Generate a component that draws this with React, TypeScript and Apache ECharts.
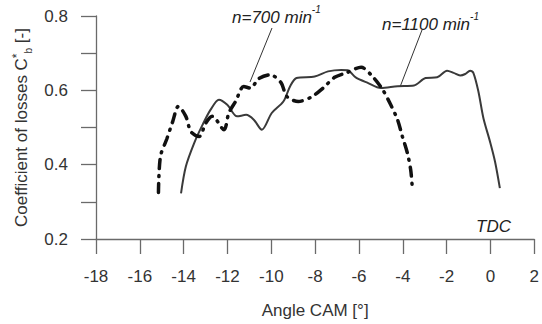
import React, { useEffect, useRef } from "react";
import * as echarts from "echarts";

const xTickLabels = [-18, -16, -14, -12, -10, -8, -6, -4, -2, 0, 2];
const yTickLabels = [0.2, 0.4, 0.6, 0.8];

const rpm1100X = [-14.12, -13.9, -13.52, -13.14, -12.77, -12.39, -12.01, -11.56, -11.15, -10.8, -10.43, -9.98, -9.45, -9.14, -8.85, -8.02, -7.41, -6.81, -6.51, -6.15, -5.6, -5.0, -4.24, -3.49, -2.96, -2.43, -1.98, -1.68, -1.38, -1.15, -0.93, -0.78, -0.55, -0.32, -0.02, 0.21, 0.43];
const rpm1100Y = [0.323, 0.395, 0.458, 0.507, 0.548, 0.575, 0.561, 0.53, 0.534, 0.521, 0.494, 0.539, 0.57, 0.611, 0.633, 0.637, 0.651, 0.655, 0.654, 0.635, 0.62, 0.606, 0.611, 0.613, 0.633, 0.635, 0.653, 0.647, 0.64, 0.644, 0.653, 0.647, 0.597, 0.525, 0.462, 0.408, 0.337];

const rpm700X = [-15.15, -15.06, -14.77, -14.5, -14.24, -13.9, -13.67, -13.29, -12.99, -12.69, -12.16, -11.94, -11.63, -11.26, -10.95, -10.58, -10.05, -9.55, -9.3, -8.77, -8.17, -7.64, -7.11, -6.58, -5.9, -5.38, -4.92, -4.55, -4.24, -4.02, -3.79, -3.64, -3.57];
const rpm700Y = [0.325, 0.422, 0.469, 0.516, 0.557, 0.53, 0.489, 0.476, 0.512, 0.53, 0.494, 0.539, 0.57, 0.61, 0.606, 0.631, 0.642, 0.62, 0.584, 0.57, 0.582, 0.606, 0.635, 0.647, 0.662, 0.637, 0.602, 0.561, 0.521, 0.476, 0.431, 0.386, 0.341];

const FONT = "Liberation Sans, Arial, sans-serif";

export default function App() {
  const ref = useRef<HTMLDivElement>(null);
  useEffect(() => {
    if (!ref.current) return;
    const chart = echarts.init(ref.current, undefined, { renderer: "svg" });
    const axisColor = "#6a6a6a";
    const textColor = "#333";
    chart.setOption({
      animation: false,
      grid: { left: 96, right: 4, top: 16, bottom: 85 },
      xAxis: {
        type: "value",
        min: xTickLabels[0],
        max: xTickLabels[xTickLabels.length - 1],
        interval: 2,
        name: "Angle CAM [°]",
        nameLocation: "middle",
        nameGap: 63,
        nameTextStyle: { fontFamily: FONT, fontSize: 17, color: textColor },
        axisLine: { onZero: false, lineStyle: { color: axisColor, width: 1.3 } },
        axisTick: { length: 15, lineStyle: { color: axisColor, width: 1.3 } },
        axisLabel: { margin: 29, fontFamily: FONT, fontSize: 17, color: textColor, showMaxLabel: true },
        splitLine: { show: false },
      },
      yAxis: {
        type: "value",
        min: yTickLabels[0],
        max: yTickLabels[yTickLabels.length - 1],
        interval: 0.1,
        name: "{a|Coefficient of losses C}{sup|*}{sub|b}{a| [-]}",
        nameLocation: "middle",
        nameGap: 60,
        nameRotate: 90,
        nameTextStyle: {
          fontFamily: FONT,
          fontSize: 17,
          color: textColor,
          rich: {
            a: { fontFamily: FONT, fontSize: 17, color: textColor, lineHeight: 24, verticalAlign: "bottom", padding: [0, 0, 3, 0] },
            sup: { fontFamily: FONT, fontSize: 12, color: textColor, lineHeight: 24, verticalAlign: "top", padding: [2, 0, 0, 0] },
            sub: { fontFamily: FONT, fontSize: 10, color: textColor, lineHeight: 24, verticalAlign: "bottom" },
          },
        },
        axisLine: { show: true, onZero: false, lineStyle: { color: axisColor, width: 1.3 } },
        axisTick: { show: true, length: 15, lineStyle: { color: axisColor, width: 1.3 } },
        axisLabel: {
          margin: 28,
          fontFamily: FONT,
          fontSize: 17,
          color: textColor,
          formatter: (v: number) => (Math.round(v * 10) % 2 === 0 ? v.toFixed(1) : ""),
        },
        splitLine: { show: false },
      },
      series: [
        {
          name: "n=1100",
          type: "line",
          data: rpm1100X.map((x, i) => [x, rpm1100Y[i]]),
          showSymbol: false,
          smooth: 0.3,
          lineStyle: { color: "#3a3a3a", width: 2 },
        },
        {
          name: "n=700",
          type: "line",
          data: rpm700X.map((x, i) => [x, rpm700Y[i]]),
          showSymbol: false,
          smooth: 0.3,
          lineStyle: { color: "#111", width: 3.5, type: [9, 7, 1, 7], cap: "round" },
        },
      ],
      graphic: [
        {
          type: "text",
          left: 232,
          top: 4,
          style: {
            text: "{a|n=700 min}{s|-1}",
            rich: {
              a: { fontFamily: FONT, fontSize: 17, fontStyle: "italic", fill: "#222", lineHeight: 22, verticalAlign: "bottom" },
              s: { fontFamily: FONT, fontSize: 10, fontStyle: "italic", fill: "#222", lineHeight: 22, verticalAlign: "top" },
            },
          },
        },
        {
          type: "text",
          left: 382,
          top: 11,
          style: {
            text: "{a|n=1100 min}{s|-1}",
            rich: {
              a: { fontFamily: FONT, fontSize: 17, fontStyle: "italic", fill: "#222", lineHeight: 22, verticalAlign: "bottom" },
              s: { fontFamily: FONT, fontSize: 10, fontStyle: "italic", fill: "#222", lineHeight: 22, verticalAlign: "top" },
            },
          },
        },
        {
          type: "line",
          shape: { x1: 272, y1: 28, x2: 250, y2: 82 },
          style: { stroke: "#333", lineWidth: 1 },
        },
        {
          type: "line",
          shape: { x1: 422, y1: 30, x2: 400, y2: 87 },
          style: { stroke: "#333", lineWidth: 1 },
        },
        {
          type: "text",
          left: 476,
          top: 218,
          style: { text: "TDC", fontFamily: FONT, fontSize: 17, fontStyle: "italic", fill: "#222" },
        },
      ],
    });
    return () => chart.dispose();
  }, []);
  return (
    <div
      ref={ref}
      style={{ position: "absolute", left: 0, top: 0, width: 542, height: 324 }}
    />
  );
}
